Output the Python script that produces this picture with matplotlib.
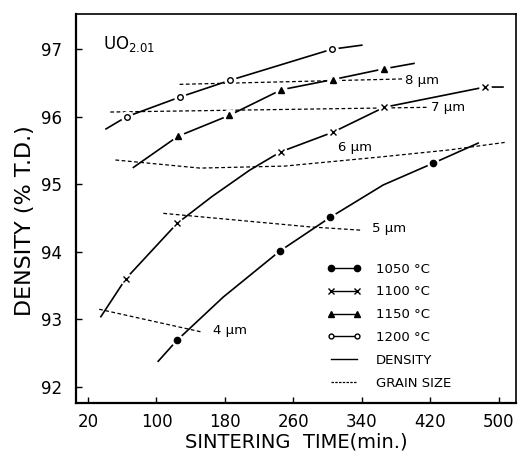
import matplotlib
matplotlib.use('Agg')
from matplotlib import pyplot as plt
from matplotlib.lines import Line2D

# density curves (time in min, density in % T.D.)
t1050 = [124, 244, 303, 423]
d1050 = [92.69, 94.01, 94.51, 95.31]
line_t1050 = [102, 124, 178, 244, 303, 365, 423, 476]
line_d1050 = [92.38, 92.69, 93.33, 94.01, 94.51, 94.99, 95.31, 95.61]

t1100 = [64, 124, 245, 306, 366, 484]
d1100 = [93.6, 94.42, 95.48, 95.77, 96.14, 96.44]
line_t1100 = [35, 64, 124, 165, 209, 245, 306, 366, 484, 505]
line_d1100 = [93.04, 93.6, 94.42, 94.82, 95.21, 95.48, 95.77, 96.14, 96.44, 96.44]

t1150 = [125, 185, 246, 306, 366]
d1150 = [95.71, 96.02, 96.40, 96.55, 96.71]
line_t1150 = [73, 125, 185, 246, 306, 366, 401]
line_d1150 = [95.25, 95.71, 96.02, 96.40, 96.55, 96.71, 96.79]

t1200 = [65, 127, 186, 305]
d1200 = [96.0, 96.29, 96.54, 97.0]
line_t1200 = [41, 65, 127, 186, 305, 340]
line_d1200 = [95.82, 96.0, 96.29, 96.54, 97.0, 97.06]

# iso grain size lines
grain_labels = ['8 µm', '7 µm', '6 µm', '5 µm', '4 µm']
grain_t = [[127, 388], [46, 418], [52, 151, 250, 358, 443, 507],
           [108, 279, 340], [33, 154]]
grain_d = [[96.48, 96.56], [96.07, 96.14],
           [95.36, 95.24, 95.27, 95.40, 95.51, 95.62],
           [94.57, 94.37, 94.32], [93.15, 92.81]]
grain_label_t = [390, 421, 312, 352, 166]
grain_label_d = [96.54, 96.13, 95.54, 94.34, 92.84]

xticks = [20, 100, 180, 260, 340, 420, 500]
yticks = [92, 93, 94, 95, 96, 97]

fig = plt.figure(figsize=(5.21, 4.55), dpi=100)
ax = fig.add_axes([0.146, 0.114, 0.844, 0.855])

dash = (0, (3, 2))
for gt, gd in zip(grain_t, grain_d):
    ax.plot(gt, gd, color='k', lw=0.9, ls=dash, zorder=2)
for lab, lt, ld in zip(grain_labels, grain_label_t, grain_label_d):
    ax.text(lt, ld, lab, fontsize=9.5, ha='left', va='center',
            bbox=dict(fc='white', ec='none', pad=0.5), zorder=3)

series = [
    (line_t1050, line_d1050, t1050, d1050, 'o', 'k', 4.5),
    (line_t1100, line_d1100, t1100, d1100, 'x', 'k', 4.5),
    (line_t1150, line_d1150, t1150, d1150, '^', 'k', 4.5),
    (line_t1200, line_d1200, t1200, d1200, 'o', 'white', 4),
]
for lt, ld, mt, md, mk, fc, ms in series:
    ax.plot(lt, ld, color='k', lw=1.2, zorder=4)
    # white halo so the lines break around the points
    ax.plot(mt, md, ls='none', marker='o', ms=9, mfc='white', mec='none',
            zorder=5)
    ax.plot(mt, md, ls='none', marker=mk, ms=ms, mfc=fc, mec='k',
            mew=1.0, zorder=6)

ax.text(37, 97.0, r'UO$_{\mathregular{2.01}}$', fontsize=12)

handles = [
    Line2D([], [], color='k', lw=1, marker='o', ms=4.5, mfc='k'),
    Line2D([], [], color='k', lw=1, marker='x', ms=4.5),
    Line2D([], [], color='k', lw=1, marker='^', ms=4.5, mfc='k'),
    Line2D([], [], color='k', lw=1, marker='o', ms=3.5, mfc='white'),
    Line2D([], [], color='k', lw=1),
    Line2D([], [], color='k', lw=0.9, ls=(0, (2, 1))),
]
labels = ['1050 °C', '1100 °C', '1150 °C', '1200 °C', 'DENSITY', 'GRAIN SIZE']
ax.legend(handles, labels, loc='lower left', bbox_to_anchor=(0.556, 0.018),
          frameon=False, fontsize=9.5, numpoints=2, handlelength=2.6,
          handletextpad=1.1, labelspacing=0.74, borderpad=0)

ax.set_xlim(6, 520)
ax.set_ylim(91.76, 97.52)
ax.set_xticks(xticks)
ax.set_yticks(yticks)
ax.tick_params(direction='in', length=4, width=1, labelsize=12)
ax.tick_params(axis='x', pad=7)
ax.tick_params(axis='y', pad=10)
for side in ['left', 'bottom']:
    ax.spines[side].set_linewidth(1.6)
for side in ['top', 'right']:
    ax.spines[side].set_linewidth(1.2)

ax.set_xlabel('SINTERING  TIME(min.)', fontsize=14, labelpad=1)
ax.set_ylabel('DENSITY (% T.D.)', fontsize=16)
ax.yaxis.set_label_coords(-0.093, 0.468)

fig.savefig('out.png', dpi=100)
plt.close(fig)
